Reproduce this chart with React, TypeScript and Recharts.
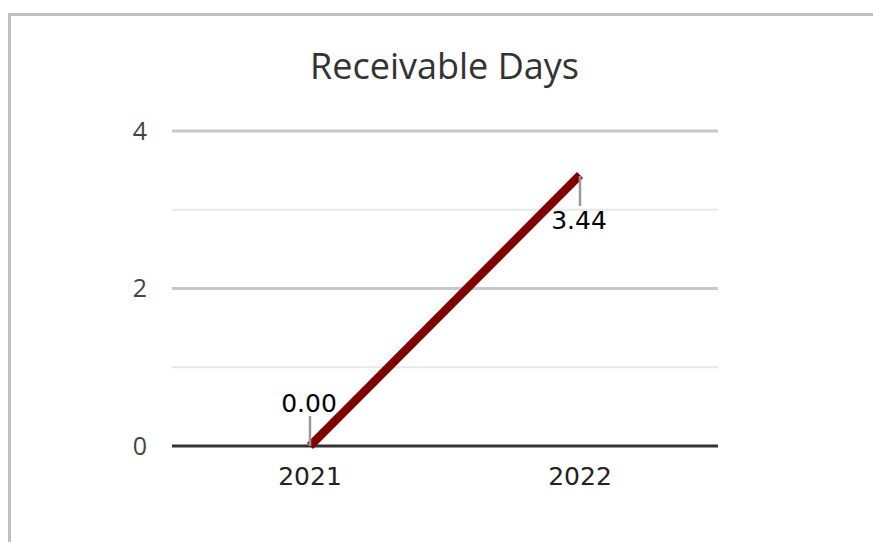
import React from "react";
import { LineChart, Line, XAxis, YAxis, ReferenceLine, LabelList } from "recharts";

const YEARS = ["2021", "2022"];
const RECEIVABLE_DAYS = [0.0, 3.44];
const Y_TICKS = [0, 2, 4];
const MINOR_GRID = [1, 3];

const data = YEARS.map((year, i) => ({ year, days: RECEIVABLE_DAYS[i] }));

const WIDTH = 873;
const HEIGHT = 542;

// value label with a short gray leader line; the last point hangs its label below
function PointLabel(props: any) {
  const { x, y, value, index } = props;
  if (x == null || y == null) return null;
  const below = index === RECEIVABLE_DAYS.length - 1;
  const text = Number(value).toFixed(2);
  return (
    <g>
      <line
        x1={x}
        x2={x}
        y1={below ? y + 1 : y - 30}
        y2={below ? y + 31 : y}
        stroke="#999"
        strokeWidth={2.5}
      />
      <text
        x={x - 1}
        y={below ? y + 54 : y - 34}
        textAnchor="middle"
        fontFamily="DejaVu Sans"
        fontSize={25}
        fill="#000"
      >
        {text}
      </text>
    </g>
  );
}

export default function App() {
  return (
    <div
      style={{
        position: "absolute",
        left: 0,
        top: 0,
        width: WIDTH,
        height: HEIGHT,
        background: "#fff",
        overflow: "hidden",
      }}
    >
      <div
        style={{
          position: "absolute",
          left: 8,
          top: 13,
          right: 0,
          bottom: 0,
          borderLeft: "3px solid #c0c0c0",
          borderTop: "3px solid #c0c0c0",
        }}
      />
      <div
        style={{
          position: "absolute",
          left: 0,
          top: 42,
          width: 889,
          textAlign: "center",
          fontFamily: "Open Sans",
          fontSize: 36,
          lineHeight: "48px",
          color: "#333",
        }}
      >
        Receivable Days
      </div>
      <div style={{ position: "absolute", left: 0, top: 0 }}>
        <LineChart
          width={WIDTH}
          height={HEIGHT}
          data={data}
          margin={{ top: 131, right: 155, bottom: 0, left: 112 }}
        >
          <XAxis
            dataKey="year"
            height={96}
            padding={{ left: 138, right: 138 }}
            axisLine={false}
            tickLine={false}
            tickSize={0}
            tickMargin={21}
            tick={{ fontFamily: "DejaVu Sans", fontSize: 25, fill: "#222" }}
          />
          <YAxis
            width={60}
            domain={[0, 4]}
            ticks={Y_TICKS}
            axisLine={false}
            tickLine={false}
            tickSize={0}
            tickMargin={25}
            tick={{ fontFamily: "Open Sans", fontSize: 25, fill: "#444" }}
          />
          {MINOR_GRID.map((v) => (
            <ReferenceLine key={`minor-${v}`} y={v} stroke="#e8e8e8" strokeWidth={2} />
          ))}
          {Y_TICKS.filter((v) => v !== 0).map((v) => (
            <ReferenceLine key={`major-${v}`} y={v} stroke="#c8c8c8" strokeWidth={3} />
          ))}
          <ReferenceLine y={0} stroke="#333" strokeWidth={3} />
          <Line
            type="linear"
            dataKey="days"
            stroke="#800000"
            strokeWidth={8.5}
            dot={false}
            activeDot={false}
            isAnimationActive={false}
          >
            <LabelList dataKey="days" content={<PointLabel />} />
          </Line>
        </LineChart>
      </div>
    </div>
  );
}
